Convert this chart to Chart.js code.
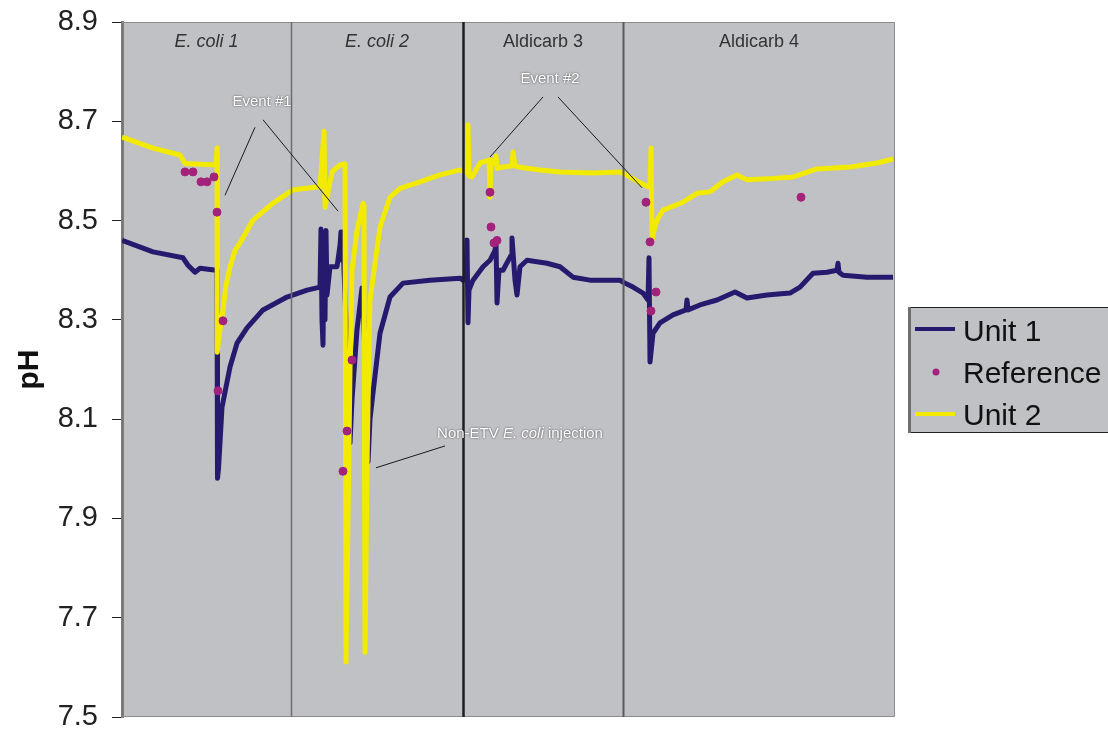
<!DOCTYPE html>
<html>
<head>
<meta charset="utf-8">
<title>pH - Unit 1, Unit 2 and reference</title>
<script src="https://cdn.jsdelivr.net/npm/chart.js@4.4.1/dist/chart.umd.min.js"></script>
<style>
html, body { margin: 0; padding: 0; background: #fff; }
#myChart { display: block; }
</style>
</head>
<body>
<canvas id="myChart" width="1108" height="733"></canvas>
<script>
// data (time in arbitrary sample units, 0..773)
const unit1Time = [0, 31, 61, 66, 73, 78, 94, 95, 95.5, 96.5, 100, 108, 115, 125, 141, 165, 185, 198,
    199, 200, 201, 202, 203, 204, 205, 208, 215, 218, 219, 220, 221, 222, 224, 227, 228, 230, 235, 240,
    241, 245, 246, 248, 251, 258, 268, 281, 308, 338,
    341, 344, 345, 346, 347, 351, 361, 368, 373, 374, 375, 377, 381, 389, 390, 393, 395, 398, 405, 425,
    438, 451, 468, 498,
    501, 511, 521, 526, 527, 528, 531, 538, 551, 564, 565, 566, 578, 595, 613, 625, 645, 668, 678, 691,
    705, 715, 716, 717, 721, 745, 771];
const unit1PH = [8.460, 8.437, 8.425, 8.410, 8.396, 8.404, 8.400, 8.400, 7.981, 8.000, 8.124, 8.205, 8.253, 8.284, 8.320, 8.346, 8.360, 8.366,
    8.483, 8.300, 8.249, 8.450, 8.300, 8.480, 8.350, 8.407, 8.407, 8.450, 8.477, 8.420, 8.477, 8.400, 8.300, 8.100, 8.052, 8.139, 8.280, 8.364,
    8.350, 8.100, 8.014, 8.100, 8.153, 8.273, 8.346, 8.374, 8.380, 8.384,
    8.380, 8.390, 8.461, 8.294, 8.360, 8.380, 8.407, 8.420, 8.440, 8.457, 8.334, 8.400, 8.400, 8.430, 8.465, 8.380, 8.350, 8.407, 8.420, 8.414,
    8.407, 8.386, 8.380, 8.380,
    8.376, 8.366, 8.354, 8.340, 8.425, 8.215, 8.273, 8.294, 8.310, 8.320, 8.340, 8.320, 8.330, 8.340, 8.356, 8.344, 8.350, 8.354, 8.366, 8.394,
    8.396, 8.400, 8.414, 8.396, 8.390, 8.386, 8.386];

const unit2Time = [0, 31, 58, 63, 94, 95, 95.3, 96, 98, 101, 104, 108, 113, 118, 131, 151, 171, 198,
    202, 203, 210, 218, 223, 224, 226, 228, 230, 235, 241, 242, 243, 245, 247, 248, 258, 268, 278, 298, 318, 338,
    345, 346, 347, 350, 358, 367, 368, 369, 372, 374, 375, 381, 390, 391, 393, 396, 418, 438, 471, 498,
    508, 518, 526, 528, 529, 530, 532, 535, 541, 561, 575, 588, 601, 615, 625, 645, 671, 695, 728, 755, 771];
const unit2PH = [8.668, 8.646, 8.632, 8.615, 8.612, 8.646, 8.235, 8.250, 8.280, 8.320, 8.370, 8.407, 8.440, 8.455, 8.501, 8.535, 8.562, 8.568,
    8.680, 8.527, 8.598, 8.612, 8.614, 7.611, 7.900, 8.200, 8.400, 8.480, 8.535, 8.530, 7.630, 8.000, 8.250, 8.340, 8.487, 8.547, 8.565, 8.578, 8.592, 8.602,
    8.596, 8.693, 8.590, 8.588, 8.616, 8.622, 8.547, 8.622, 8.615, 8.630, 8.605, 8.608, 8.610, 8.638, 8.610, 8.608, 8.602, 8.598, 8.596, 8.598,
    8.588, 8.576, 8.568, 8.568, 8.646, 8.461, 8.480, 8.501, 8.521, 8.537, 8.555, 8.558, 8.578, 8.592, 8.582, 8.584, 8.588, 8.604, 8.608, 8.616, 8.624];

const refTime = [63, 71, 79, 85, 92, 95, 101, 96, 221, 225, 230, 368, 369, 372, 375, 524, 528, 534, 529, 679];
const refPH = [8.598, 8.598, 8.578, 8.578, 8.588, 8.517, 8.298, 8.157, 7.995, 8.076, 8.219, 8.557, 8.487, 8.455, 8.460, 8.537, 8.457, 8.356, 8.318, 8.547];

const phTicks = [7.5, 7.7, 7.9, 8.1, 8.3, 8.5, 8.7, 8.9];
const timeEnd = 773;

// test sections
const sectionNames = ['E. coli 1', 'E. coli 2', 'Aldicarb 3', 'Aldicarb 4'];
const sectionStarts = [0, 169, 341, 501];

// callouts: label anchor and leader lines, in data units
const callouts = [
    { parts: [['Event #1', '']], t: 140, ph: 8.731,
      leaders: [[133, 8.688, 103, 8.551], [141, 8.703, 216, 8.519]] },
    { parts: [['Event #2', '']], t: 428, ph: 8.777,
      leaders: [[421, 8.749, 368, 8.628], [436, 8.749, 520, 8.566]] },
    { parts: [['Non-ETV ', ''], ['E. coli', 'italic '], [' injection', '']], t: 398, ph: 8.062,
      leaders: [[323, 8.046, 254, 8.002]] }
];

const NAVY = '#261a6e';
const YELLOW = '#f2ea00';
const MAGENTA = '#a3227c';
const PLOT_BG = '#c0c1c5';
const FONT = '"Liberation Sans", Arial, sans-serif';

const dividerStyles = [
    { color: '#6e6e6e', width: 1.5 },
    { color: '#1e1e1e', width: 2.5 },
    { color: '#5a5a5a', width: 2 }
];

function pairs(xs, ys) {
    return xs.map((x, i) => ({ x: x, y: ys[i] }));
}

const decor = {
    id: 'decor',
    beforeDraw(chart) {
        const { ctx, chartArea: a } = chart;
        ctx.save();
        ctx.fillStyle = PLOT_BG;
        ctx.fillRect(a.left, a.top, a.right - a.left, a.bottom - a.top);
        ctx.restore();
    },
    afterDatasetsDraw(chart) {
        const { ctx, chartArea: a, scales: { x, y } } = chart;
        ctx.save();

        // frame
        ctx.strokeStyle = '#8c8c8c';
        ctx.lineWidth = 1;
        ctx.beginPath();
        ctx.moveTo(a.left, a.top + 0.5);
        ctx.lineTo(a.right - 0.5, a.top + 0.5);
        ctx.lineTo(a.right - 0.5, a.bottom - 0.5);
        ctx.lineTo(a.left, a.bottom - 0.5);
        ctx.stroke();

        // section dividers
        sectionStarts.slice(1).forEach((t, i) => {
            const px = Math.round(x.getPixelForValue(t)) + 0.5;
            ctx.strokeStyle = dividerStyles[i].color;
            ctx.lineWidth = dividerStyles[i].width;
            ctx.beginPath();
            ctx.moveTo(px, a.top);
            ctx.lineTo(px, a.bottom);
            ctx.stroke();
        });

        // section names
        ctx.fillStyle = '#333';
        ctx.textAlign = 'center';
        ctx.textBaseline = 'alphabetic';
        sectionNames.forEach((name, i) => {
            const t0 = sectionStarts[i];
            const t1 = i + 1 < sectionStarts.length ? sectionStarts[i + 1] : timeEnd;
            const cx = x.getPixelForValue((t0 + t1) / 2);
            ctx.font = (name.startsWith('E. coli') ? 'italic ' : '') + '18px ' + FONT;
            ctx.fillText(name, cx, a.top + 25);
        });

        // callouts
        callouts.forEach(c => {
            ctx.strokeStyle = '#1a1a1a';
            ctx.lineWidth = 1;
            c.leaders.forEach(l => {
                ctx.beginPath();
                ctx.moveTo(x.getPixelForValue(l[0]), y.getPixelForValue(l[1]));
                ctx.lineTo(x.getPixelForValue(l[2]), y.getPixelForValue(l[3]));
                ctx.stroke();
            });
            let total = 0;
            c.parts.forEach(p => {
                ctx.font = p[1] + '15px ' + FONT;
                total += ctx.measureText(p[0]).width;
            });
            let px = x.getPixelForValue(c.t) - total / 2;
            const py = y.getPixelForValue(c.ph);
            ctx.textAlign = 'left';
            ctx.fillStyle = '#ffffff';
            ctx.shadowColor = 'rgba(40,40,40,0.9)';
            ctx.shadowBlur = 2;
            c.parts.forEach(p => {
                ctx.font = p[1] + '15px ' + FONT;
                ctx.fillText(p[0], px, py);
                px += ctx.measureText(p[0]).width;
            });
            ctx.shadowColor = 'transparent';
            ctx.shadowBlur = 0;
        });
        ctx.restore();
    },
    afterDraw(chart) {
        const { ctx } = chart;
        const bx = 908, by = 307, bw = 210, bh = 126;
        ctx.save();
        ctx.fillStyle = PLOT_BG;
        ctx.fillRect(bx, by, bw, bh);
        ctx.strokeStyle = '#222';
        ctx.lineWidth = 1;
        ctx.beginPath();
        ctx.moveTo(bx, by + 0.5);
        ctx.lineTo(bx + bw, by + 0.5);
        ctx.moveTo(bx, by + bh - 0.5);
        ctx.lineTo(bx + bw, by + bh - 0.5);
        ctx.stroke();
        ctx.strokeStyle = '#6e6e6e';
        ctx.lineWidth = 3;
        ctx.beginPath();
        ctx.moveTo(bx + 1.5, by);
        ctx.lineTo(bx + 1.5, by + bh);
        ctx.stroke();

        const items = [
            { label: 'Unit 1', kind: 'line', color: NAVY, base: 341, mid: 329 },
            { label: 'Reference', kind: 'point', color: MAGENTA, base: 383, mid: 372 },
            { label: 'Unit 2', kind: 'line', color: YELLOW, base: 425, mid: 414 }
        ];
        items.forEach(it => {
            if (it.kind === 'line') {
                ctx.strokeStyle = it.color;
                ctx.lineWidth = 4;
                ctx.beginPath();
                ctx.moveTo(915, it.mid);
                ctx.lineTo(955, it.mid);
                ctx.stroke();
            } else {
                ctx.fillStyle = it.color;
                ctx.beginPath();
                ctx.arc(936, it.mid, 3.5, 0, Math.PI * 2);
                ctx.fill();
            }
            ctx.fillStyle = '#111';
            ctx.font = '30px ' + FONT;
            ctx.textAlign = 'left';
            ctx.textBaseline = 'alphabetic';
            ctx.fillText(it.label, 963, it.base);
        });
        ctx.restore();
    }
};

const ctx = document.getElementById('myChart').getContext('2d');
const chart = new Chart(ctx, {
    type: 'scatter',
    data: {
        datasets: [
            {
                label: 'Reference',
                data: pairs(refTime, refPH),
                backgroundColor: MAGENTA,
                borderColor: MAGENTA,
                pointRadius: 4,
                pointHoverRadius: 4,
                pointStyle: 'circle'
            },
            {
                label: 'Unit 2',
                data: pairs(unit2Time, unit2PH),
                showLine: true,
                borderColor: YELLOW,
                borderWidth: 5,
                borderJoinStyle: 'round',
                pointRadius: 0,
                tension: 0
            },
            {
                label: 'Unit 1',
                data: pairs(unit1Time, unit1PH),
                showLine: true,
                borderColor: NAVY,
                borderWidth: 5,
                borderJoinStyle: 'round',
                pointRadius: 0,
                tension: 0
            }
        ]
    },
    options: {
        responsive: false,
        animation: false,
        layout: { padding: { left: 0, right: 213, top: 22, bottom: 16 } },
        plugins: {
            legend: { display: false },
            tooltip: { enabled: false }
        },
        scales: {
            x: {
                type: 'linear',
                min: 0,
                max: timeEnd,
                display: false
            },
            y: {
                min: 7.5,
                max: 8.9,
                afterFit(scale) {
                    scale.width = 122;
                    scale.paddingTop = 0;
                    scale.paddingBottom = 0;
                },
                afterBuildTicks(scale) { scale.ticks = phTicks.map(v => ({ value: v })); },
                ticks: {
                    color: '#222',
                    font: { family: FONT, size: 29 },
                    padding: 14,
                    callback: v => Number(v).toFixed(1)
                },
                grid: {
                    drawOnChartArea: false,
                    drawTicks: true,
                    tickLength: 10,
                    tickColor: '#222',
                    tickWidth: 1
                },
                border: { display: true, color: '#7a7a7a', width: 3 },
                title: {
                    display: true,
                    text: 'pH',
                    color: '#111',
                    font: { family: FONT, size: 30, weight: 'bold' },
                    padding: { top: 12, bottom: 0 }
                }
            }
        }
    },
    plugins: [decor]
});
</script>
</body>
</html>
